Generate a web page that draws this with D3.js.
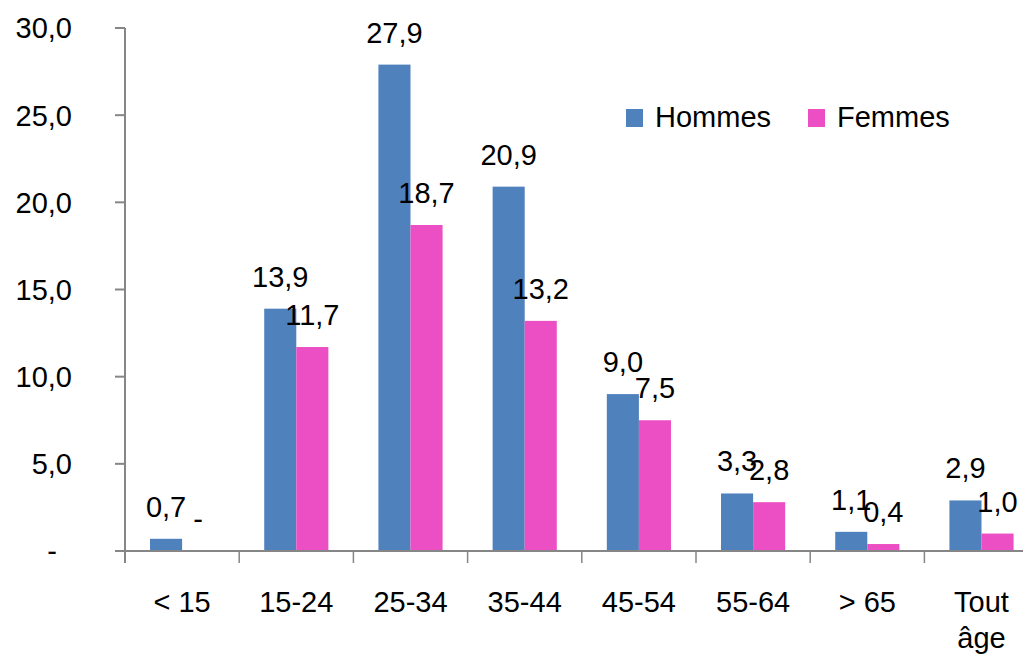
<!DOCTYPE html>
<html>

<head>
    <meta charset=utf-8 />
    <script src="https://cdn.jsdelivr.net/npm/d3@7"></script>
    <title>Hommes / Femmes</title>
    <style>
        html,
        body {
            margin: 0;
            padding: 0;
            background: #fff;
        }

        svg {
            display: block;
            font-family: "Liberation Sans", Arial, sans-serif;
        }
    </style>
</head>

<body>
    <div id="svg-canvas"></div>
    <script>
        var categories = ['< 15', '15-24', '25-34', '35-44', '45-54', '55-64', '> 65', 'Tout âge'];
        var series = ['Hommes', 'Femmes'];
        var hommes = [0.7, 13.9, 27.9, 20.9, 9.0, 3.3, 1.1, 2.9];
        var femmes = [0, 11.7, 18.7, 13.2, 7.5, 2.8, 0.4, 1.0];
        var yTicks = [0, 5, 10, 15, 20, 25, 30];
        var colors = ['#4F81BD', '#EC4FC3'];

        var width = 1023, height = 657;
        var plotLeft = 125, plotBottom = 551, plotTop = 28;
        var step = 114.2;
        var fontSize = 29;
        var axisColor = '#868686';

        var svg = d3.select('#svg-canvas').append('svg')
            .attr('width', width)
            .attr('height', height);

        var x0 = d3.scaleBand()
            .domain(categories)
            .range([plotLeft, plotLeft + step * categories.length])
            .padding(0);

        var x1 = d3.scaleBand()
            .domain(series)
            .range([0, x0.bandwidth()])
            .paddingInner(0)
            .paddingOuter(0.78);

        var y = d3.scaleLinear()
            .domain([0, 30])
            .range([plotBottom, plotTop]);

        function fmt(v) {
            return v === 0 ? '-' : d3.format('.1f')(v).replace('.', ',');
        }

        // y axis
        svg.append('line')
            .attr('x1', plotLeft).attr('x2', plotLeft)
            .attr('y1', plotTop).attr('y2', plotBottom + 12)
            .attr('stroke', axisColor).attr('stroke-width', 2);

        var yt = svg.selectAll('.ytick').data(yTicks).enter().append('g')
            .attr('class', 'ytick')
            .attr('transform', d => 'translate(0,' + y(d) + ')');
        yt.append('line')
            .attr('x1', plotLeft - 10).attr('x2', plotLeft)
            .attr('stroke', axisColor).attr('stroke-width', 2);
        yt.append('text')
            .attr('x', d => d === 0 ? 57 : 72)
            .attr('dy', '0.36em')
            .attr('text-anchor', 'end')
            .attr('font-size', fontSize)
            .attr('fill', '#000')
            .text(fmt);

        // bars
        var data = categories.map((c, i) => ({ cat: c, values: [hommes[i], femmes[i]] }));

        var groups = svg.selectAll('.group').data(data).enter().append('g')
            .attr('class', 'group')
            .attr('transform', d => 'translate(' + x0(d.cat) + ',0)');

        groups.selectAll('rect')
            .data(d => d.values.map((v, j) => ({ key: series[j], v: v, j: j })))
            .enter().append('rect')
            .attr('x', d => x1(d.key))
            .attr('width', x1.bandwidth())
            .attr('y', d => y(d.v))
            .attr('height', d => plotBottom - y(d.v))
            .attr('fill', d => colors[d.j]);

        groups.selectAll('.label')
            .data(d => d.values.map((v, j) => ({ key: series[j], v: v, j: j })))
            .enter().append('text')
            .attr('class', 'label')
            .attr('x', d => x1(d.key) + x1.bandwidth() / 2)
            .attr('y', d => y(d.v) - 22)
            .attr('text-anchor', 'middle')
            .attr('font-size', fontSize)
            .attr('fill', '#000')
            .text(d => fmt(d.v));

        // x axis
        svg.append('line')
            .attr('x1', plotLeft - 10).attr('x2', width)
            .attr('y1', plotBottom).attr('y2', plotBottom)
            .attr('stroke', axisColor).attr('stroke-width', 2);

        svg.selectAll('.xtick').data(categories.slice(1)).enter().append('line')
            .attr('class', 'xtick')
            .attr('x1', d => x0(d)).attr('x2', d => x0(d))
            .attr('y1', plotBottom).attr('y2', plotBottom + 12)
            .attr('stroke', axisColor).attr('stroke-width', 1.5);

        var xl = svg.selectAll('.xlabel').data(categories).enter().append('text')
            .attr('class', 'xlabel')
            .attr('x', d => x0(d) + x0.bandwidth() / 2)
            .attr('y', 612)
            .attr('text-anchor', 'middle')
            .attr('font-size', fontSize)
            .attr('fill', '#000');
        xl.each(function (d) {
            var words = d === 'Tout âge' ? ['Tout', 'âge'] : [d];
            var t = d3.select(this);
            words.forEach((w, k) => {
                t.append('tspan')
                    .attr('x', x0(d) + x0.bandwidth() / 2)
                    .attr('dy', k === 0 ? 0 : 36)
                    .text(w);
            });
        });

        // legend
        var legendX = [626, 808];
        var lg = svg.selectAll('.legend').data(series).enter().append('g')
            .attr('class', 'legend')
            .attr('transform', (d, i) => 'translate(' + legendX[i] + ',109)');
        lg.append('rect')
            .attr('width', 17).attr('height', 18)
            .attr('fill', (d, i) => colors[i]);
        lg.append('text')
            .attr('x', 29)
            .attr('y', 18)
            .attr('font-size', fontSize)
            .attr('fill', '#000')
            .text(d => d);
    </script>
</body>

</html>
